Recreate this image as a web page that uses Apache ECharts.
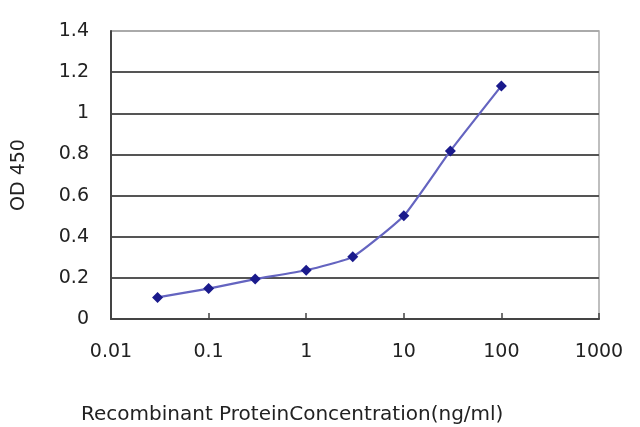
<!DOCTYPE html>
<html>
<head>
<meta charset="utf-8">
<script src="https://cdn.jsdelivr.net/npm/echarts@6/dist/echarts.min.js"></script>
<style>
  html, body { margin: 0; padding: 0; background: #fff; }
  #container { width: 640px; height: 427px; }
</style>
</head>
<body>
<div id="container"></div>
<script>
var concentration = [0.03, 0.1, 0.3, 1, 3, 10, 30, 100];
var od450 = [0.105, 0.148, 0.194, 0.237, 0.302, 0.502, 0.817, 1.133];
var xTickLabels = ['0.01', '0.1', '1', '10', '100', '1000'];

var myChart = echarts.init(document.getElementById('container'));
var points = concentration.map(function (c, i) { return [c, od450[i]]; });

var option = {
    backgroundColor: '#fff',
    animation: false,
    textStyle: { fontFamily: 'DejaVu Sans' },
    title: {
        text: 'Recombinant ProteinConcentration(ng/ml)',
        left: 76,
        top: 400,
        textStyle: { fontSize: 20, fontWeight: 'normal', color: '#222', fontFamily: 'DejaVu Sans' }
    },
    grid: {
        left: 111,
        right: 41,
        top: 31,
        bottom: 108,
        outerBoundsMode: 'none',
        show: true,
        borderColor: '#aaa',
        borderWidth: 1.5
    },
    xAxis: {
        type: 'log',
        logBase: 10,
        min: 0.01,
        max: 1000,
        axisLine: { lineStyle: { color: '#444', width: 2 } },
        axisTick: { inside: true, length: 6, lineStyle: { color: '#444', width: 1.5 } },
        splitLine: { show: false },
        axisLabel: {
            margin: 24,
            fontSize: 19,
            color: '#222',
            formatter: function (v) {
                return xTickLabels[Math.round(Math.log10(v)) + 2];
            }
        }
    },
    yAxis: {
        type: 'value',
        min: 0,
        max: 1.4,
        interval: 0.2,
        name: 'OD 450',
        nameLocation: 'middle',
        nameGap: 82,
        nameTextStyle: { fontSize: 19, color: '#222' },
        axisLine: { show: true, lineStyle: { color: '#444', width: 2 } },
        axisTick: { show: false },
        splitLine: {
            lineStyle: {
                color: ['#555', '#555', '#555', '#555', '#555', '#555', '#555', '#aaa'],
                width: 1.8
            }
        },
        axisLabel: {
            margin: 22,
            fontSize: 19,
            color: '#222',
            formatter: function (v) { return String(+v.toFixed(1)); }
        }
    },
    series: [{
        type: 'line',
        data: points,
        smooth: 0.15,
        symbol: 'diamond',
        symbolSize: 11,
        lineStyle: { color: '#6464c0', width: 2.2 },
        itemStyle: { color: '#1a1a8c' }
    }]
};

myChart.setOption(option, true);
window.onresize = function () {
    myChart.resize();
};
</script>
</body>
</html>
